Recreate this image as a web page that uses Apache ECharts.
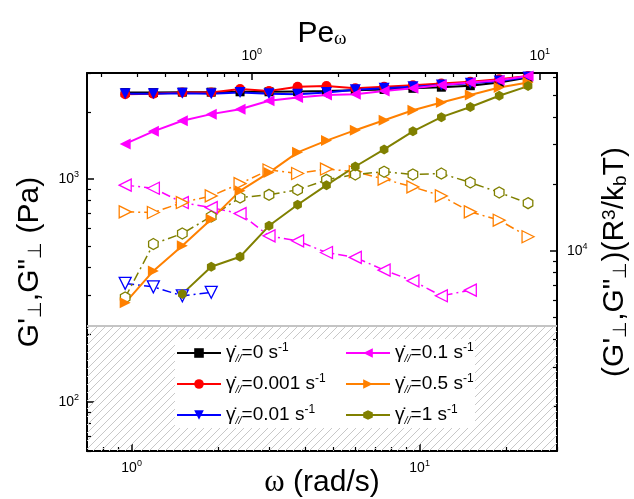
<!DOCTYPE html>
<html>
<head>
<meta charset="utf-8">
<script src="https://cdn.jsdelivr.net/npm/echarts@6/dist/echarts.min.js"></script>
<style>
html, body { margin: 0; background: #fff; }
#chart { width: 634px; height: 499px; }
</style>
</head>
<body>
<div id="chart"></div>
<script>
// angular frequency (rad/s)
const omega = [0.95, 1.19, 1.5, 1.89, 2.38, 3.0, 3.77, 4.75, 5.98, 7.53, 9.48, 11.9, 15.0, 18.9, 23.8]
// shear rates shown in the legend (s-1)
const rates = ['0', '0.001', '0.01', '0.1', '0.5', '1']

// G' (Pa), filled symbols
const gp0 = [2450, 2450, 2460, 2460, 2470, 2470, 2480, 2490, 2510, 2530, 2560, 2590, 2630, 2720, 2860]
const gp0001 = [2410, 2420, 2450, 2450, 2540, 2490, 2600, 2620, 2560, 2600, 2640, 2690, 2740, 2810, 2910]
const gp001 = [2420, 2420, 2430, 2420, 2450, 2420, 2410, 2450, 2520, 2560, 2600, 2650, 2700, 2760, 2880]
const gp01 = [1440, 1640, 1830, 1960, 2060, 2250, 2330, 2390, 2410, 2490, 2560, 2650, 2720, 2780, 2910]
const gp05 = [278, 387, 502, 661, 886, 1070, 1320, 1490, 1660, 1840, 2040, 2210, 2390, 2580, 2720]
const gp1 = [null, null, 305, 404, 448, 617, 767, 940, 1140, 1360, 1640, 1900, 2110, 2370, 2620]

// G'' (Pa), open symbols
const gpp001 = [340, 328, 299, 310, null, null, null, null, null, null, null, null, null, null, null]
const gpp01 = [940, 910, 785, 745, 700, 556, 528, 468, 445, 390, 349, 299, 317, null, null]
const gpp05 = [713, 708, 785, 841, 955, 1100, 1060, 1110, 1080, 1000, 923, 841, 713, 654, 551]
const gpp1 = [294, 511, 570, 679, 827, 850, 895, 993, 1050, 1080, 1050, 1060, 966, 871, 780]

// axis ranges and ticks
const OMEGA_MIN = 0.7
const OMEGA_MAX = 30
const G_MIN = 60
const G_MAX = 3000
const PE_SCALE = 2.613   // omega per unit Pe
const RIGHT_SCALE = 20.98 // (R^3/kbT) factor
const G_FLOOR = 220      // lower limit of the measurable range (hatched)

const xMajor = [1, 10]
const xMinor = [0.7, 0.8, 0.9, 2, 3, 4, 5, 6, 7, 8, 9, 20, 30]
const peMajor = [1, 10]
const peMinor = [0.3, 0.4, 0.5, 0.6, 0.7, 0.8, 0.9, 2, 3, 4, 5, 6, 7, 8, 9]
const yMajor = [100, 1000]
const yMinor = [60, 70, 80, 90, 200, 300, 400, 500, 600, 700, 800, 900, 2000, 3000]
const rMajor = [10000]
const rMinor = [2000, 3000, 4000, 5000, 6000, 7000, 8000, 9000, 20000, 30000, 40000, 50000, 60000]

const colors = ['#000000', '#ff0000', '#0000ff', '#ff00ff', '#ff8000', '#808000']
const HEX = 'path://M0,-10L8.66,-5L8.66,5L0,10L-8.66,5L-8.66,-5Z'
const markers = [
    { symbol: 'rect', rotate: 0, size: 9 },
    { symbol: 'circle', rotate: 0, size: 10 },
    { symbol: 'triangle', rotate: 180, size: 11 },
    { symbol: 'triangle', rotate: 90, size: 11 },
    { symbol: 'triangle', rotate: -90, size: 11 },
    { symbol: HEX, rotate: 0, size: 10 }
]
const FONT = 'Liberation Sans, Arial, sans-serif'

const storage = [gp0, gp0001, gp001, gp01, gp05, gp1]
const loss = [null, null, gpp001, gpp01, gpp05, gpp1]

const toPoints = (vals) => omega.map((w, k) => [w, vals[k]]).filter((p) => p[1] != null)

// hatch pattern for the region below the floor
const hatch = document.createElement('canvas')
hatch.width = 8
hatch.height = 8
const hctx = hatch.getContext('2d')
hctx.strokeStyle = '#c8c8c8'
hctx.lineWidth = 1
hctx.beginPath()
hctx.moveTo(0, 8); hctx.lineTo(8, 0)
hctx.moveTo(-1, 1); hctx.lineTo(1, -1)
hctx.moveTo(7, 9); hctx.lineTo(9, 7)
hctx.stroke()

const powLabel = (v) => '{b|10}{s|' + Math.round(Math.log10(v)) + '}'
const labelRich = {
    b: { fontSize: 14, lineHeight: 18, fontFamily: FONT, color: '#000' },
    s: { fontSize: 9, lineHeight: 9, verticalAlign: 'top', fontFamily: FONT, color: '#000' }
}

const frameAxis = (extra) => Object.assign({
    type: 'log',
    logBase: 10,
    nameMoveOverlap: false,
    splitLine: { show: false },
    minorTick: { show: false },
    axisLine: { show: true, onZero: false, lineStyle: { color: '#000', width: 2 } },
    axisTick: { show: true, inside: true, length: 7, lineStyle: { color: '#000', width: 1.5 } },
    axisLabel: { show: false }
}, extra)

const majorAxis = (position, min, max, ticks, margin, extra) => frameAxis(Object.assign({
    position, min, max,
    axisTick: { show: true, inside: true, length: 7, customValues: ticks, lineStyle: { color: '#000', width: 1.5 } },
    axisLabel: { show: true, customValues: ticks, formatter: powLabel, rich: labelRich, margin }
}, extra))

const minorAxis = (position, min, max, ticks) => frameAxis({
    position, min, max,
    axisLine: { show: false },
    axisTick: { show: true, inside: true, length: 4, customValues: ticks, lineStyle: { color: '#000', width: 1.2 } }
})

const titleStyle = (extra) => Object.assign({
    fontSize: 30,
    fontFamily: FONT,
    color: '#000',
    rich: {
        sub: { fontSize: 19, verticalAlign: 'bottom', lineHeight: 17, fontFamily: FONT },
        sup: { fontSize: 19, verticalAlign: 'top', lineHeight: 17, fontFamily: FONT },
        w: { fontSize: 31, fontFamily: 'Liberation Serif, serif' },
        ws: { fontSize: 19, verticalAlign: 'bottom', lineHeight: 15, fontFamily: 'Liberation Serif, serif' }
    }
}, extra)

const legendFormatter = (name) => '{g|γ̇}{sub|//}{t|=' + name + ' s}{sup|-1}'
const legendRich = {
    g: { fontSize: 19, lineHeight: 22, fontFamily: FONT, color: '#000' },
    sub: { fontSize: 11, lineHeight: 10, fontStyle: 'italic', verticalAlign: 'bottom', fontFamily: FONT, color: '#000' },
    t: { fontSize: 19, lineHeight: 22, fontFamily: FONT, color: '#000' },
    sup: { fontSize: 12, lineHeight: 12, verticalAlign: 'top', fontFamily: FONT, color: '#000' }
}
const legendBase = {
    orient: 'vertical',
    itemWidth: 44,
    itemHeight: 12,
    itemGap: 9,
    padding: 0,
    formatter: legendFormatter,
    textStyle: { rich: legendRich }
}

const series = [{
    name: 'floor',
    type: 'line',
    data: [],
    silent: true,
    markArea: {
        silent: true,
        itemStyle: { color: { image: hatch, repeat: 'repeat' } },
        data: [[{ yAxis: G_MIN }, { yAxis: G_FLOOR }]]
    },
    markLine: {
        silent: true,
        symbol: 'none',
        label: { show: false },
        lineStyle: { color: '#c4c4c4', width: 2, type: 'solid' },
        data: [{ yAxis: G_FLOOR }]
    }
}]

loss.forEach((vals, i) => {
    if (!vals) return
    series.push({
        name: rates[i] + ' loss',
        type: 'line',
        data: toPoints(vals),
        symbol: markers[i].symbol,
        symbolRotate: markers[i].rotate,
        symbolSize: markers[i].size + 1,
        symbolKeepAspect: true,
        showAllSymbol: true,
        lineStyle: { color: colors[i], width: 1.5, type: [9, 4, 2, 4] },
        itemStyle: { color: '#fff', borderColor: colors[i], borderWidth: 1.3 }
    })
})

storage.forEach((vals, i) => {
    series.push({
        name: rates[i],
        type: 'line',
        data: toPoints(vals),
        symbol: markers[i].symbol,
        symbolRotate: markers[i].rotate,
        symbolSize: markers[i].size,
        symbolKeepAspect: true,
        showAllSymbol: true,
        lineStyle: { color: colors[i], width: 2 },
        itemStyle: { color: colors[i] }
    })
})

const chart = echarts.init(document.getElementById('chart'))
chart.setOption({
    animation: false,
    backgroundColor: '#fff',
    grid: { left: 87, top: 73, width: 470, height: 378, containLabel: false, outerBoundsMode: 'none' },
    graphic: [{
        type: 'rect',
        z: 3,
        shape: { x: 175, y: 339, width: 300, height: 89 },
        style: { fill: '#fff' }
    }],
    legend: [
        Object.assign({ data: rates.slice(0, 3), left: 176, top: 342 }, legendBase),
        Object.assign({ data: rates.slice(3), left: 345, top: 342 }, legendBase)
    ],
    xAxis: [
        majorAxis('bottom', OMEGA_MIN, OMEGA_MAX, xMajor, 8, {
            name: '{w|ω} (rad/s)',
            nameLocation: 'middle',
            nameGap: 16,
            nameTextStyle: titleStyle()
        }),
        minorAxis('bottom', OMEGA_MIN, OMEGA_MAX, xMinor),
        majorAxis('top', OMEGA_MIN / PE_SCALE, OMEGA_MAX / PE_SCALE, peMajor, 8, {
            name: 'Pe{ws|ω}',
            nameLocation: 'middle',
            nameGap: 24,
            nameTextStyle: titleStyle()
        }),
        minorAxis('top', OMEGA_MIN / PE_SCALE, OMEGA_MAX / PE_SCALE, peMinor)
    ],
    yAxis: [
        majorAxis('left', G_MIN, G_MAX, yMajor, 8, {
            name: 'G\'{sub|⊥},G"{sub|⊥} (Pa)',
            nameLocation: 'middle',
            nameRotate: 90,
            nameGap: 42,
            nameTextStyle: titleStyle()
        }),
        minorAxis('left', G_MIN, G_MAX, yMinor),
        majorAxis('right', G_MIN * RIGHT_SCALE, G_MAX * RIGHT_SCALE, rMajor, 10, {
            name: '(G\'{sub|⊥},G"{sub|⊥})(R{sup|3}/k{sub|b}T)',
            nameLocation: 'middle',
            nameRotate: 90,
            nameGap: 43,
            nameTextStyle: titleStyle()
        }),
        minorAxis('right', G_MIN * RIGHT_SCALE, G_MAX * RIGHT_SCALE, rMinor)
    ],
    series: series
})
</script>
</body>
</html>
